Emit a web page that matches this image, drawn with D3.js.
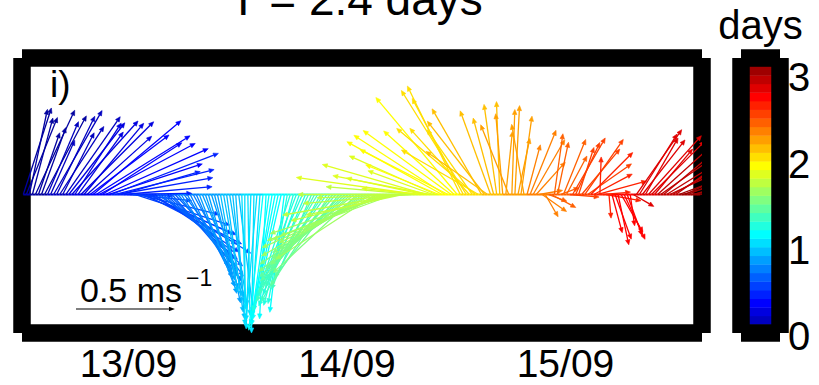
<!DOCTYPE html>
<html>
<head>
<meta charset="utf-8">
<script src="https://cdn.jsdelivr.net/npm/d3@7"></script>
<style>
  html, body { margin: 0; padding: 0; background: #fff; }
  svg { display: block; font-family: "Liberation Sans", Arial, Helvetica, sans-serif; }
</style>
</head>
<body>
<svg id="chart" width="819" height="385"></svg>
<script>
// Sample times, minutes relative to 13/09 00:00 (20-minute record)
const minutes = [
  -690, -670, -650, -630, -610, -590, -570, -550, -530, -510, -490, -470, -450, -430, -410, -390, -370, -350, -330, -310,
  -290, -270, -250, -230, -210, -190, -170, -150, -130, -110, -90, -70, -50, -30, -10, 10, 30, 50, 70, 90,
  110, 130, 150, 170, 190, 210, 230, 250, 270, 290, 310, 330, 350, 370, 390, 410, 430, 450, 470, 490,
  510, 530, 550, 570, 590, 610, 630, 650, 670, 690, 710, 730, 750, 770, 790, 810, 830, 850, 870, 890,
  910, 930, 950, 970, 990, 1010, 1030, 1050, 1070, 1090, 1110, 1130, 1150, 1170, 1190, 1210, 1230, 1250, 1270, 1290,
  1310, 1330, 1350, 1370, 1390, 1410, 1430, 1450, 1470, 1490, 1510, 1530, 1550, 1570, 1590, 1610, 1630, 1650, 1670, 1690,
  1710, 1730, 1750, 1770, 1790, 1810, 1830, 1850, 1870, 1890, 1910, 1930, 1950, 1970, 1990, 2010, 2030, 2050, 2070, 2090,
  2110, 2130, 2150, 2170, 2190, 2210, 2230, 2250, 2270, 2290, 2310, 2330, 2350, 2370, 2390, 2410, 2430, 2450, 2470, 2490,
  2510, 2530, 2550, 2570, 2590, 2610, 2630, 2650, 2670, 2690, 2710, 2730, 2750, 2770, 2790, 2810, 2830, 2850, 2870, 2890,
  2910, 2930, 2950, 2970, 2990, 3010, 3030, 3050, 3070, 3090, 3110, 3130, 3150, 3170, 3190, 3210, 3230, 3250, 3270, 3290,
  3310, 3330, 3350, 3370, 3390, 3410, 3430, 3450, 3470, 3490, 3510, 3530, 3550, 3570, 3590, 3610, 3630, 3650, 3670, 3690,
  3710, 3730, 3750, 3770
];

// Current direction (degrees clockwise from north, direction of flow)
const direction = [
  18, 22, 12, 15, 25, 19, 20, 28, 23, 24, 30, 26, 33, 27, 35, 38, 42, 33, 36, 45,
  40, 48, 53, 50, 58, 62, 57, 66, 72, 69, 76, 80, 74, 85, 89, 92, 96, 108, 104, 113,
  117, 115, 120, 124, 122, 128, 131, 133, 135, 139, 137, 142, 146, 144, 150, 153, 151, 156, 159, 157,
  161, 164, 162, 166, 168, 170, 170, 172, 171, 174, 176, 173, 178, 180, 179, 182, 181, 185, 184, 186,
  183, 188, 189, 191, 192, 193, 187, 190, 198, 195, 201, 200, 204, 203, 206, 203, 208, 211, 209, 214,
  216, 213, 219, 221, 218, 224, 226, 228, 229, 231, 227, 234, 236, 238, 239, 241, 237, 244, 246, 248,
  249, 252, 250, 256, 260, 258, 265, 270, 268, 275, 278, 276, 282, 286, 281, 290, 294, 292, 299, 303,
  297, 306, 312, 320, 334, 332, 328, 318, 325, 310, 300, 330, 322, 305, 340, 345, 352, 358, 355, 6,
  338, 2, 3, 12, 8, 350, 15, 22, 30, 42, 80, 125, 150, 110, 118, 8, 12, 70, 22, 28,
  95, 30, 25, 18, 40, 35, 55, 45, 62, 75, 2, 85, 100, 175, 165, 160, 168, 150, 155, 160,
  172, 120, 35, 32, 38, 30, 42, 45, 40, 48, 55, 50, 58, 65, 60, 55, 70, 75, 65, 68,
  80, 72, 85, 78
];

// Current speed (m s^-1)
const speed = [
  0.46, 0.42, 0.44, 0.40, 0.47, 0.33, 0.36, 0.45, 0.40, 0.30, 0.49, 0.44, 0.41, 0.35, 0.48, 0.46, 0.50, 0.43, 0.39, 0.52,
  0.47, 0.44, 0.50, 0.58, 0.56, 0.55, 0.48, 0.57, 0.50, 0.58, 0.52, 0.49, 0.42, 0.45, 0.33, 0.22, 0.30, 0.50, 0.42, 0.52,
  0.55, 0.47, 0.50, 0.52, 0.56, 0.47, 0.50, 0.53, 0.46, 0.49, 0.43, 0.44, 0.46, 0.51, 0.42, 0.47, 0.50, 0.44, 0.50, 0.45,
  0.46, 0.52, 0.55, 0.49, 0.56, 0.50, 0.52, 0.60, 0.57, 0.55, 0.63, 0.60, 0.58, 0.66, 0.61, 0.68, 0.70, 0.64, 0.66, 0.69,
  0.63, 0.62, 0.67, 0.64, 0.60, 0.65, 0.60, 0.56, 0.62, 0.58, 0.55, 0.60, 0.57, 0.55, 0.60, 0.52, 0.53, 0.58, 0.62, 0.52,
  0.57, 0.55, 0.50, 0.58, 0.53, 0.52, 0.60, 0.56, 0.54, 0.62, 0.58, 0.55, 0.63, 0.52, 0.57, 0.64, 0.60, 0.56, 0.66, 0.61,
  0.58, 0.64, 0.68, 0.55, 0.60, 0.50, 0.52, 0.56, 0.48, 0.45, 0.62, 0.30, 0.40, 0.55, 0.50, 0.35, 0.48, 0.40, 0.55, 0.55,
  0.50, 0.55, 0.48, 0.64, 0.61, 0.55, 0.62, 0.45, 0.40, 0.52, 0.45, 0.50, 0.47, 0.38, 0.45, 0.40, 0.46, 0.47, 0.41, 0.32,
  0.38, 0.43, 0.45, 0.29, 0.40, 0.36, 0.26, 0.35, 0.32, 0.22, 0.12, 0.15, 0.13, 0.10, 0.14, 0.31, 0.27, 0.10, 0.30, 0.22,
  0.15, 0.33, 0.29, 0.25, 0.30, 0.34, 0.27, 0.30, 0.22, 0.26, 0.19, 0.14, 0.18, 0.12, 0.20, 0.24, 0.26, 0.22, 0.25, 0.22,
  0.16, 0.12, 0.40, 0.36, 0.35, 0.33, 0.40, 0.38, 0.30, 0.36, 0.32, 0.36, 0.34, 0.30, 0.34, 0.38, 0.30, 0.35, 0.32, 0.28,
  0.30, 0.34, 0.33, 0.30
];

const xTickMinutes = [0, 1440, 2880];
const xTickLabels = ["13/09", "14/09", "15/09"];
const colorTicks = [0, 1, 2, 3];
const colorMax = 3.19;            // days covered by the colour bar
const scaleSpeed = 0.5;           // reference arrow, m s^-1
const titleText = "T = 2.4 days";
const panelLabel = "i)";
const colorLabel = "days";

// 32-step jet colour map
const jet32 = [
  "#00009F", "#0000BF", "#0000DF", "#0000FF", "#0020FF", "#0040FF", "#0060FF", "#0080FF",
  "#009FFF", "#00BFFF", "#00DFFF", "#00FFFF", "#20FFDF", "#40FFBF", "#60FF9F", "#80FF80",
  "#9FFF60", "#BFFF40", "#DFFF20", "#FFFF00", "#FFDF00", "#FFBF00", "#FF9F00", "#FF8000",
  "#FF6000", "#FF4000", "#FF2000", "#FF0000", "#DF0000", "#BF0000", "#9F0000", "#800000"
];

const svg = d3.select("#chart");
const box = { left: 22, right: 702, top: 58, bottom: 333 };
const frameWidth = 17.5;

const x = d3.scaleLinear().domain([-698.4, 3783]).range([box.left, box.right]);
const y = d3.scaleLinear().domain([-0.70, 0.69]).range([box.bottom, box.top]);
const pxPerMs = y(0) - y(1);   // equal scaling for both components
const color = d3.scaleQuantize().domain([0, colorMax]).range(jet32);

const t0 = minutes[0];
const data = minutes.map((m, i) => {
  const th = direction[i] * Math.PI / 180;
  return {
    m: m,
    elapsed: (m - t0) / 1440,
    u: speed[i] * Math.sin(th),
    v: speed[i] * Math.cos(th)
  };
});

svg.append("rect").attr("width", 819).attr("height", 385).attr("fill", "#fff");

// ---- colour bar ----
const cb = { left: 741, right: 780, top: 58, bottom: 333 };
const cbY = d3.scaleLinear().domain([0, colorMax]).range([cb.bottom, cb.top]);
const step = colorMax / jet32.length;
svg.append("g").selectAll("rect")
  .data(jet32)
  .join("rect")
  .attr("x", cb.left)
  .attr("width", cb.right - cb.left)
  .attr("y", (d, i) => cbY((i + 1) * step))
  .attr("height", (d, i) => cbY(i * step) - cbY((i + 1) * step) + 0.4)
  .attr("fill", d => d);

// thick box outlines with butt ends (open corners)
function frame(b) {
  const g = svg.append("g").attr("stroke", "#000").attr("stroke-width", frameWidth)
    .attr("stroke-linecap", "butt").attr("fill", "none");
  g.append("line").attr("x1", b.left).attr("x2", b.right).attr("y1", b.top).attr("y2", b.top);
  g.append("line").attr("x1", b.left).attr("x2", b.right).attr("y1", b.bottom).attr("y2", b.bottom);
  g.append("line").attr("x1", b.left).attr("x2", b.left).attr("y1", b.top).attr("y2", b.bottom);
  g.append("line").attr("x1", b.right).attr("x2", b.right).attr("y1", b.top).attr("y2", b.bottom);
}
frame(box);
frame(cb);

// colour bar tick labels
const cbAxis = svg.append("g")
  .call(d3.axisRight(cbY).tickValues(colorTicks).tickSize(0).tickFormat(d3.format("d")));
cbAxis.select(".domain").remove();
cbAxis.selectAll("text")
  .attr("x", 788).attr("dy", null).attr("y", 16.5)
  .attr("font-size", 40).attr("font-family", null).attr("fill", "#000");

svg.append("text").attr("x", 760.5).attr("y", 39).attr("text-anchor", "middle")
  .attr("font-size", 40).text(colorLabel);

// ---- time axis labels ----
const xAxis = svg.append("g")
  .call(d3.axisBottom(x).tickValues(xTickMinutes).tickSize(0)
    .tickFormat((d, i) => xTickLabels[i]));
xAxis.select(".domain").remove();
xAxis.selectAll("text")
  .attr("y", 376.5).attr("dy", null)
  .attr("font-size", 39).attr("font-family", null).attr("fill", "#000");

// ---- title ----
svg.append("text").attr("x", 356).attr("y", 15).attr("text-anchor", "middle")
  .attr("font-size", 46).text(titleText);

// ---- stick vectors ----
svg.append("clipPath").attr("id", "plotClip")
  .append("rect").attr("x", box.left).attr("y", box.top)
  .attr("width", box.right - box.left).attr("height", box.bottom - box.top);

const plot = svg.append("g").attr("clip-path", "url(#plotClip)");

// line linking the vector origins
plot.append("g").selectAll("line")
  .data(data.slice(0, -1))
  .join("line")
  .attr("x1", d => x(d.m))
  .attr("x2", (d, i) => x(data[i + 1].m))
  .attr("y1", y(0)).attr("y2", y(0))
  .attr("stroke", d => color(d.elapsed))
  .attr("stroke-width", 2);

function arrowPath(x1, y1, x2, y2, headLen, headHalf) {
  const dx = x2 - x1, dy = y2 - y1;
  const L = Math.hypot(dx, dy);
  if (L < 0.5) return { shaft: "", head: "" };
  const ux = dx / L, uy = dy / L;
  const hl = Math.min(headLen, L * 0.6);
  const bx = x2 - ux * hl, by = y2 - uy * hl;
  const shaft = `M${x1},${y1}L${bx},${by}`;
  const head = `M${x2},${y2}L${bx - uy * headHalf},${by + ux * headHalf}L${bx + uy * headHalf},${by - ux * headHalf}Z`;
  return { shaft, head };
}

plot.append("g").selectAll("g")
  .data(data)
  .join("g")
  .each(function (d) {
    const x1 = x(d.m), y1 = y(0);
    const x2 = x1 + d.u * pxPerMs, y2 = y1 - d.v * pxPerMs;
    const p = arrowPath(x1, y1, x2, y2, 5, 2.2);
    const c = color(d.elapsed);
    const g = d3.select(this);
    g.append("path").attr("d", p.shaft).attr("stroke", c).attr("stroke-width", 1.3).attr("fill", "none");
    g.append("path").attr("d", p.head).attr("fill", c).attr("stroke", c).attr("stroke-width", 0.6);
  });

// ---- panel label ----
svg.append("text").attr("x", 50).attr("y", 97).attr("font-size", 37).text(panelLabel);

// ---- reference arrow ----
const refX = 76, refY = 309;
const ref = arrowPath(refX, refY, refX + scaleSpeed * pxPerMs, refY, 6, 2.2);
svg.append("path").attr("d", ref.shaft).attr("stroke", "#000").attr("stroke-width", 1.1).attr("fill", "none");
svg.append("path").attr("d", ref.head).attr("fill", "#000");

svg.append("text").attr("x", 80).attr("y", 302).attr("font-size", 34).text(scaleSpeed + " ms");
svg.append("text").attr("x", 186).attr("y", 286).attr("font-size", 23).text("\u22121");
</script>
</body>
</html>
